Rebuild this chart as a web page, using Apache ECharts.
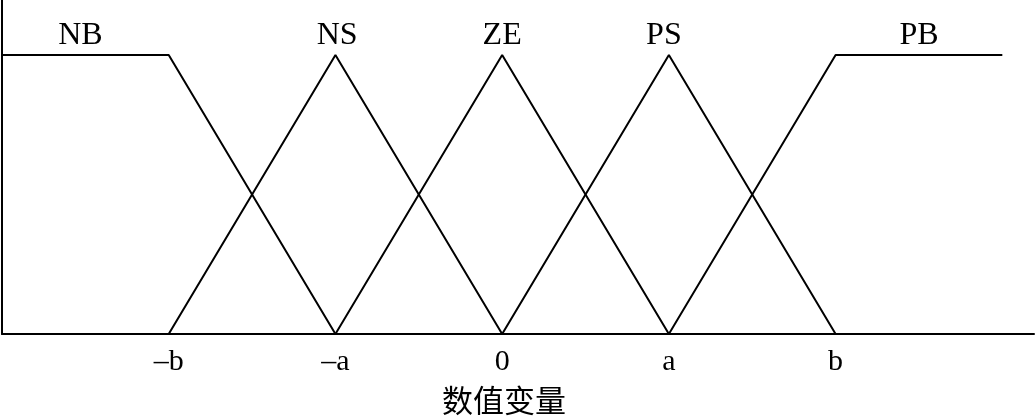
<!DOCTYPE html>
<html lang="zh">
<head>
    <meta charset="UTF-8">
    <title>模糊隶属度函数</title>
    <script src="https://cdn.jsdelivr.net/npm/echarts@6/dist/echarts.min.js"></script>
    <style>
        html, body { margin: 0; width: 100%; height: 100%; background: #fff; overflow: hidden; }
        #main { width: 1035px; height: 419px; }
    </style>
</head>
<body>
<div id="main"></div>
<script>
    // 横轴刻度值和显示文字 (-b, -a, 0, a, b)
    var tickValues = [-2, -1, 0, 1, 2];
    var tickLabels = ['\u2013b', '\u2013a', '0', 'a', 'b'];

    // 各隶属度函数的折点 [x, μ]
    var NB = [[-3, 1], [-2, 1], [-1, 0]];
    var NS = [[-2, 0], [-1, 1], [0, 0]];
    var ZE = [[-1, 0], [0, 1], [1, 0]];
    var PS = [[0, 0], [1, 1], [2, 0]];
    var PB = [[1, 0], [2, 1], [3, 1]];

    var setNames = ['NB', 'NS', 'ZE', 'PS', 'PB'];
    // 名称标注位置
    var namePos = [[-2.53, 1.07], [-0.99, 1.07], [0, 1.07], [0.97, 1.07], [2.5, 1.07]];

    var serif = '"Liberation Serif", "DejaVu Serif", serif';
    var lineColor = '#000';

    var myChart = echarts.init(document.getElementById('main'));

    var series = [NB, NS, ZE, PS, PB].map(function (d, i) {
        return {
            name: setNames[i],
            type: 'line',
            data: d,
            symbol: 'none',
            silent: true,
            lineStyle: { color: lineColor, width: 2 }
        };
    });
    series.push({
        type: 'scatter',
        symbolSize: 0,
        silent: true,
        itemStyle: { opacity: 1, color: lineColor },
        data: namePos.map(function (p, i) {
            return { value: p, name: setNames[i] };
        }),
        label: {
            show: true,
            position: 'inside',
            formatter: '{b}',
            color: lineColor,
            opacity: 1,
            fontFamily: serif,
            fontSize: 32
        }
    });

    var option = {
        animation: false,
        grid: { left: 2, right: 1, top: 0, bottom: 85, outerBoundsMode: 'none', containLabel: false },
        xAxis: {
            type: 'value',
            min: -3,
            max: 3.19,
            interval: 1,
            name: '数值变量',
            nameLocation: 'middle',
            nameGap: 51,
            // 轴名称在 0 下方居中，右侧留白使其左移
            nameTextStyle: {
                fontFamily: '"Noto Sans CJK SC"',
                fontSize: 31,
                color: lineColor,
                padding: [0, 28, 0, 0]
            },
            axisLine: { show: true, lineStyle: { color: lineColor, width: 2 } },
            axisTick: { show: false },
            splitLine: { show: false },
            axisLabel: {
                margin: 13,
                color: lineColor,
                fontFamily: serif,
                fontSize: 30,
                showMinLabel: true,
                showMaxLabel: false,
                formatter: function (v) {
                    var k = tickValues.indexOf(Math.round(v));
                    return k >= 0 && Math.abs(v - tickValues[k]) < 1e-6 ? tickLabels[k] : '';
                }
            }
        },
        yAxis: {
            type: 'value',
            min: 0,
            max: 1.197,
            axisLine: { show: true, onZero: false, lineStyle: { color: lineColor, width: 2 } },
            axisTick: { show: false },
            axisLabel: { show: false },
            splitLine: { show: false }
        },
        series: series
    };

    myChart.setOption(option);
</script>
</body>
</html>
